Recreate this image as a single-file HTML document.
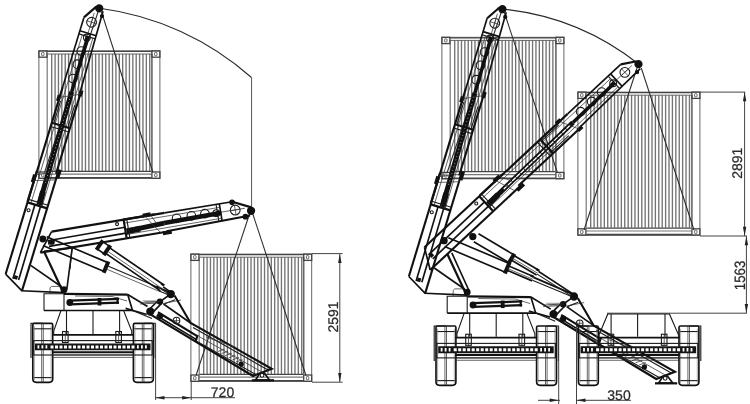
<!DOCTYPE html>
<html><head><meta charset="utf-8"><title>Side loader working range</title>
<style>
html,body{margin:0;padding:0;background:#fff;}
body{width:750px;height:404px;overflow:hidden;}
svg{display:block;will-change:transform;filter:blur(0.45px);}
line,path,circle,rect{stroke-linecap:butt;}
.k{stroke:#111;stroke-width:1.65;}
.kk{stroke:#111;stroke-width:2.2;}
.m{stroke:#1a1a1a;stroke-width:1.1;}
.t{stroke:#333;stroke-width:0.75;}
.t3{stroke:#777;stroke-width:0.6;}
.vl{stroke:#555;stroke-width:1;}
.t2{stroke:#2a2a2a;stroke-width:1.05;}
.g{stroke:#555;stroke-width:0.9;}
.g3{stroke:#444;stroke-width:1.3;}
.g4{stroke:#777;stroke-width:1.2;}
.n{stroke:none;}
.g6{stroke:#444;stroke-width:1.6;}
.g5{stroke:#666;stroke-width:1.6;}
.g2{stroke:#777;stroke-width:0.6;}
.c{stroke:#747474;stroke-width:1.35;fill:none;}
.d{stroke:#444;stroke-width:1;}
.e{stroke:#111;stroke-width:2.1;}
.ch{stroke:#111;stroke-width:3.5;}
.ch5{stroke:#111;stroke-width:4.6;}
.ch3{stroke:#111;stroke-width:4;}
.ch4{stroke:#111;stroke-width:5.8;}
.ch2{stroke:#111;stroke-width:5;}
.cw{stroke:#ddd;stroke-width:0.8;stroke-dasharray:0.8 2.8;}
.cw2{stroke:#fff;stroke-width:1.3;stroke-dasharray:5 0.8;}
.br{stroke:#111;stroke-width:3.8;}
.br3{stroke:#111;stroke-width:4;}
.br2{stroke:#111;stroke-width:2.2;}
.band{stroke:#151515;stroke-width:6.8;}
.dots{stroke:#fff;stroke-width:3;stroke-dasharray:3 1.5;}
.dots2{stroke:#fff;stroke-width:3.4;stroke-dasharray:1.8 2.2;}
.tx{font-family:"Liberation Sans",sans-serif;fill:#2a2a2a;stroke:#2a2a2a;stroke-width:0.25;text-rendering:geometricPrecision;}
</style></head><body>
<svg width="750" height="404" viewBox="0 0 750 404">
<rect width="750" height="404" fill="#fff"/>
<g>
<path d="M51.7 54V171M55.08 54V171M58.46 54V171M61.84 54V171M65.22 54V171M68.6 54V171M71.98 54V171M75.36 54V171M78.74 54V171M82.12 54V171M85.5 54V171M88.88 54V171M92.26 54V171M95.64 54V171M99.02 54V171M102.4 54V171M105.78 54V171M109.16 54V171M112.54 54V171M115.92 54V171M119.3 54V171M122.68 54V171M126.06 54V171M129.44 54V171M132.82 54V171M136.2 54V171M139.58 54V171M142.96 54V171M146.34 54V171M149.72 54V171" class="c"/>
<rect x="38.9" y="50.9" width="121" height="127.5" rx="0" class="g" fill="none"/>
<line x1="46.6" y1="51.4" x2="152.2" y2="51.4" class="g3"/>
<line x1="46.6" y1="54" x2="152.2" y2="54" class="g"/>
<line x1="47.2" y1="171.3" x2="151.6" y2="171.3" class="g3"/>
<line x1="47.2" y1="174.2" x2="151.6" y2="174.2" class="g4"/>
<line x1="47.2" y1="177.8" x2="151.6" y2="177.8" class="g6"/>
<line x1="47.2" y1="54" x2="47.2" y2="171" class="g4"/>
<line x1="151.9" y1="54" x2="151.9" y2="171" class="g5"/>
<rect x="38.9" y="50.9" width="8" height="6.3" rx="0" class="g3" fill="none"/>
<rect x="41.6" y="52.4" width="2.4" height="3.3" rx="0.8" class="g" fill="none"/>
<rect x="38.9" y="172" width="8" height="6.3" rx="0" class="g3" fill="none"/>
<rect x="41.6" y="173.5" width="2.4" height="3.3" rx="0.8" class="g" fill="none"/>
<rect x="151.9" y="50.9" width="8" height="6.3" rx="0" class="g3" fill="none"/>
<rect x="154.6" y="52.4" width="2.4" height="3.3" rx="0.8" class="g" fill="none"/>
<rect x="151.9" y="172" width="8" height="6.3" rx="0" class="g3" fill="none"/>
<rect x="154.6" y="173.5" width="2.4" height="3.3" rx="0.8" class="g" fill="none"/>
</g>
<g>
<path d="M203.7 257.2V374M207.08 257.2V374M210.46 257.2V374M213.84 257.2V374M217.22 257.2V374M220.6 257.2V374M223.98 257.2V374M227.36 257.2V374M230.74 257.2V374M234.12 257.2V374M237.5 257.2V374M240.88 257.2V374M244.26 257.2V374M247.64 257.2V374M251.02 257.2V374M254.4 257.2V374M257.78 257.2V374M261.16 257.2V374M264.54 257.2V374M267.92 257.2V374M271.3 257.2V374M274.68 257.2V374M278.06 257.2V374M281.44 257.2V374M284.82 257.2V374M288.2 257.2V374M291.58 257.2V374M294.96 257.2V374M298.34 257.2V374M301.72 257.2V374" class="c"/>
<rect x="190.9" y="254.1" width="120.8" height="127.3" rx="0" class="g" fill="none"/>
<line x1="198.6" y1="254.6" x2="304" y2="254.6" class="g3"/>
<line x1="198.6" y1="257.2" x2="304" y2="257.2" class="g"/>
<line x1="199.2" y1="374.3" x2="303.4" y2="374.3" class="g3"/>
<line x1="199.2" y1="377.2" x2="303.4" y2="377.2" class="g4"/>
<line x1="199.2" y1="380.8" x2="303.4" y2="380.8" class="g6"/>
<line x1="199.2" y1="257.2" x2="199.2" y2="374" class="g4"/>
<line x1="303.7" y1="257.2" x2="303.7" y2="374" class="g5"/>
<rect x="190.9" y="254.1" width="8" height="6.3" rx="0" class="g3" fill="none"/>
<rect x="193.6" y="255.6" width="2.4" height="3.3" rx="0.8" class="g" fill="none"/>
<rect x="190.9" y="375" width="8" height="6.3" rx="0" class="g3" fill="none"/>
<rect x="193.6" y="376.5" width="2.4" height="3.3" rx="0.8" class="g" fill="none"/>
<rect x="303.7" y="254.1" width="8" height="6.3" rx="0" class="g3" fill="none"/>
<rect x="306.4" y="255.6" width="2.4" height="3.3" rx="0.8" class="g" fill="none"/>
<rect x="303.7" y="375" width="8" height="6.3" rx="0" class="g3" fill="none"/>
<rect x="306.4" y="376.5" width="2.4" height="3.3" rx="0.8" class="g" fill="none"/>
</g>
<g>
<path d="M454.7 40.4V171.4M458.09 40.4V171.4M461.47 40.4V171.4M464.86 40.4V171.4M468.24 40.4V171.4M471.63 40.4V171.4M475.01 40.4V171.4M478.4 40.4V171.4M481.78 40.4V171.4M485.17 40.4V171.4M488.55 40.4V171.4M491.94 40.4V171.4M495.32 40.4V171.4M498.71 40.4V171.4M502.09 40.4V171.4M505.48 40.4V171.4M508.86 40.4V171.4M512.25 40.4V171.4M515.63 40.4V171.4M519.02 40.4V171.4M522.4 40.4V171.4M525.79 40.4V171.4M529.17 40.4V171.4M532.56 40.4V171.4M535.94 40.4V171.4M539.33 40.4V171.4M542.71 40.4V171.4M546.1 40.4V171.4M549.48 40.4V171.4M552.87 40.4V171.4" class="c"/>
<rect x="441.9" y="37.3" width="122" height="141.5" rx="0" class="g" fill="none"/>
<line x1="449.6" y1="37.8" x2="556.2" y2="37.8" class="g3"/>
<line x1="449.6" y1="40.4" x2="556.2" y2="40.4" class="g"/>
<line x1="450.2" y1="171.7" x2="555.6" y2="171.7" class="g3"/>
<line x1="450.2" y1="174.6" x2="555.6" y2="174.6" class="g4"/>
<line x1="450.2" y1="178.2" x2="555.6" y2="178.2" class="g6"/>
<line x1="450.2" y1="40.4" x2="450.2" y2="171.4" class="g4"/>
<line x1="555.9" y1="40.4" x2="555.9" y2="171.4" class="g5"/>
<rect x="441.9" y="37.3" width="8" height="6.3" rx="0" class="g3" fill="none"/>
<rect x="444.6" y="38.8" width="2.4" height="3.3" rx="0.8" class="g" fill="none"/>
<rect x="441.9" y="172.4" width="8" height="6.3" rx="0" class="g3" fill="none"/>
<rect x="444.6" y="173.9" width="2.4" height="3.3" rx="0.8" class="g" fill="none"/>
<rect x="555.9" y="37.3" width="8" height="6.3" rx="0" class="g3" fill="none"/>
<rect x="558.6" y="38.8" width="2.4" height="3.3" rx="0.8" class="g" fill="none"/>
<rect x="555.9" y="172.4" width="8" height="6.3" rx="0" class="g3" fill="none"/>
<rect x="558.6" y="173.9" width="2.4" height="3.3" rx="0.8" class="g" fill="none"/>
</g>
<g>
<path d="M590.7 95.2V227.8M594.11 95.2V227.8M597.51 95.2V227.8M600.92 95.2V227.8M604.32 95.2V227.8M607.73 95.2V227.8M611.13 95.2V227.8M614.54 95.2V227.8M617.94 95.2V227.8M621.35 95.2V227.8M624.75 95.2V227.8M628.16 95.2V227.8M631.56 95.2V227.8M634.97 95.2V227.8M638.37 95.2V227.8M641.78 95.2V227.8M645.18 95.2V227.8M648.59 95.2V227.8M651.99 95.2V227.8M655.39 95.2V227.8M658.8 95.2V227.8M662.21 95.2V227.8M665.61 95.2V227.8M669.02 95.2V227.8M672.42 95.2V227.8M675.83 95.2V227.8M679.23 95.2V227.8M682.63 95.2V227.8M686.04 95.2V227.8M689.45 95.2V227.8" class="c"/>
<rect x="577.9" y="92.1" width="122" height="143.1" rx="0" class="g" fill="none"/>
<line x1="585.6" y1="92.6" x2="692.2" y2="92.6" class="g3"/>
<line x1="585.6" y1="95.2" x2="692.2" y2="95.2" class="g"/>
<line x1="586.2" y1="228.1" x2="691.6" y2="228.1" class="g3"/>
<line x1="586.2" y1="231" x2="691.6" y2="231" class="g4"/>
<line x1="586.2" y1="234.6" x2="691.6" y2="234.6" class="g6"/>
<line x1="586.2" y1="95.2" x2="586.2" y2="227.8" class="g4"/>
<line x1="691.9" y1="95.2" x2="691.9" y2="227.8" class="g5"/>
<rect x="577.9" y="92.1" width="8" height="6.3" rx="0" class="g3" fill="none"/>
<rect x="580.6" y="93.6" width="2.4" height="3.3" rx="0.8" class="g" fill="none"/>
<rect x="577.9" y="228.8" width="8" height="6.3" rx="0" class="g3" fill="none"/>
<rect x="580.6" y="230.3" width="2.4" height="3.3" rx="0.8" class="g" fill="none"/>
<rect x="691.9" y="92.1" width="8" height="6.3" rx="0" class="g3" fill="none"/>
<rect x="694.6" y="93.6" width="2.4" height="3.3" rx="0.8" class="g" fill="none"/>
<rect x="691.9" y="228.8" width="8" height="6.3" rx="0" class="g3" fill="none"/>
<rect x="694.6" y="230.3" width="2.4" height="3.3" rx="0.8" class="g" fill="none"/>
</g>
<path d="M99.6 8.2 A284 284 0 0 1 251.5 77.5" class="t2" fill="none"/>
<line x1="251.6" y1="77.5" x2="251.6" y2="208" class="vl"/>
<path d="M502.6 9 A262 262 0 0 1 639.2 64.5" class="t2" fill="none"/>
<line x1="101.5" y1="12" x2="153" y2="172.5" class="t2"/>
<line x1="98" y1="12" x2="44.5" y2="172.5" class="t2"/>
<line x1="249.5" y1="214" x2="196" y2="375.5" class="t2"/>
<line x1="252.5" y1="213" x2="306" y2="375.5" class="t2"/>
<line x1="504.5" y1="13" x2="557.5" y2="173" class="t2"/>
<line x1="501" y1="13" x2="447" y2="173" class="t2"/>
<line x1="637" y1="68" x2="584" y2="230" class="t2"/>
<line x1="641.3" y1="68" x2="694" y2="230" class="t2"/>
<g transform="translate(0 0) scale(1 1)">
<path d="M32.8 324.8 Q32.8 323.3 34.3 323.3 H51.2 Q52.7 323.3 52.7 324.8 V378.8 Q52.7 382.3 49.2 382.3 H36.3 Q32.8 382.3 32.8 378.8 Z" class="k" fill="none"/>
<line x1="41.7" y1="323.3" x2="41.7" y2="382.3" class="t"/>
<line x1="43.3" y1="323.3" x2="43.3" y2="382.3" class="t"/>
<line x1="33.8" y1="328.8" x2="51.7" y2="328.8" class="m"/>
<line x1="33.8" y1="377.6" x2="51.7" y2="377.6" class="m"/>
<line x1="34.4" y1="326" x2="34.4" y2="380" class="t3"/>
<line x1="51.1" y1="326" x2="51.1" y2="380" class="t3"/>
<path d="M31 358 L31 323.3 L42.8 323.3" class="m" fill="none"/>
<path d="M133.4 324.8 Q133.4 323.3 134.9 323.3 H151.8 Q153.3 323.3 153.3 324.8 V378.8 Q153.3 382.3 149.8 382.3 H136.9 Q133.4 382.3 133.4 378.8 Z" class="k" fill="none"/>
<line x1="142.3" y1="323.3" x2="142.3" y2="382.3" class="t"/>
<line x1="143.9" y1="323.3" x2="143.9" y2="382.3" class="t"/>
<line x1="134.4" y1="328.8" x2="152.3" y2="328.8" class="m"/>
<line x1="134.4" y1="377.6" x2="152.3" y2="377.6" class="m"/>
<line x1="135" y1="326" x2="135" y2="380" class="t3"/>
<line x1="151.7" y1="326" x2="151.7" y2="380" class="t3"/>
<path d="M155.2 358 L155.2 323.3 L143.4 323.3" class="m" fill="none"/>
<rect x="33.7" y="340.6" width="118.5" height="14.4" rx="0" class="m" fill="none"/>
<line x1="35" y1="346.9" x2="150.5" y2="346.9" class="band"/>
<line x1="37.5" y1="346.9" x2="49" y2="346.9" class="dots2"/>
<line x1="50.5" y1="346.9" x2="136" y2="346.9" class="dots"/>
<line x1="137" y1="346.9" x2="148.5" y2="346.9" class="dots2"/>
<line x1="52" y1="352.2" x2="134" y2="352.2" class="e"/>
<line x1="52" y1="355" x2="134" y2="355" class="t"/>
<line x1="52" y1="357.4" x2="134" y2="357.4" class="t"/>
<line x1="52" y1="334.8" x2="134" y2="334.8" class="k"/>
<rect x="62.5" y="331.5" width="5.6" height="11" rx="0" class="m" fill="none"/>
<line x1="65.3" y1="331.5" x2="65.3" y2="342.5" class="t"/>
<rect x="115.8" y="331.5" width="5.6" height="11" rx="0" class="m" fill="none"/>
<line x1="118.6" y1="331.5" x2="118.6" y2="342.5" class="t"/>
<g>
<line x1="83.93" y1="17.43" x2="62.75" y2="86.87" class="k"/>
<line x1="62.75" y1="86.87" x2="5.66" y2="274.06" class="e"/>
<line x1="83.93" y1="17.43" x2="96.3" y2="6.67" class="kk"/>
<line x1="103.03" y1="11.34" x2="80.06" y2="92.15" class="k"/>
<line x1="80.83" y1="92.38" x2="56.03" y2="173.69" class="e"/>
<line x1="57.56" y1="174.15" x2="21.97" y2="290.85" class="e"/>
<line x1="5.66" y1="274.06" x2="21.97" y2="290.85" class="k"/>
<circle cx="99.23" cy="8.4" r="3.3" class="k" fill="#111"/>
<circle cx="102.02" cy="16.05" r="1.3" class="k" fill="#111"/>
<circle cx="91.55" cy="22.26" r="4.9" class="m" fill="none"/>
<line x1="92.98" y1="17.58" x2="90.12" y2="26.95" class="t"/>
<line x1="96.23" y1="23.69" x2="86.86" y2="20.83" class="t"/>
<line x1="94.22" y1="12.83" x2="87.21" y2="35.79" class="t"/>
<line x1="79.87" y1="30.72" x2="96.13" y2="35.68" class="k"/>
<line x1="78.91" y1="33.88" x2="95.27" y2="38.87" class="m"/>
<circle cx="86.88" cy="37.57" r="3.4" class="m" fill="none"/>
<circle cx="81.31" cy="51.03" r="4.3" class="m" fill="none"/>
<circle cx="77.32" cy="64.13" r="4.3" class="m" fill="none"/>
<circle cx="72.94" cy="78.48" r="4.3" class="m" fill="none"/>
<line x1="82.14" y1="35.28" x2="30.86" y2="203.44" class="t"/>
<line x1="92.76" y1="38.52" x2="41.95" y2="206.82" class="t"/>
<line x1="87.79" y1="35.96" x2="86.04" y2="41.7" class="ch3"/>
<line x1="87.69" y1="36.98" x2="71.73" y2="91.7" class="ch"/>
<line x1="71.73" y1="91.7" x2="39.29" y2="203.92" class="ch2"/>
<line x1="42.98" y1="191.45" x2="39.28" y2="204.96" class="ch4"/>
<line x1="70.66" y1="95.56" x2="44.93" y2="184.73" class="cw"/>
<line x1="59.55" y1="95.31" x2="57.8" y2="101.04" class="br"/>
<line x1="81.7" y1="90.56" x2="79.95" y2="96.3" class="br"/>
<line x1="59.54" y1="97.39" x2="80.24" y2="94.3" class="t"/>
<line x1="51.81" y1="122.74" x2="69.89" y2="128.25" class="kk"/>
<line x1="50.64" y1="126.57" x2="68.72" y2="132.08" class="m"/>
<line x1="60.58" y1="100.85" x2="53.87" y2="122.85" class="m"/>
<line x1="74.73" y1="105.16" x2="68.02" y2="127.16" class="m"/>
<line x1="34.96" y1="174.58" x2="32.62" y2="182.23" class="br"/>
<line x1="36.89" y1="170.99" x2="27.55" y2="201.59" class="kk"/>
<line x1="59.98" y1="169.66" x2="57.35" y2="178.27" class="br"/>
<line x1="34.16" y1="180.61" x2="55.81" y2="179.89" class="t"/>
<line x1="35.91" y1="174.87" x2="47.22" y2="173.09" class="t"/>
<line x1="27.51" y1="202.42" x2="47.12" y2="208.4" class="kk"/>
<line x1="28.44" y1="199.36" x2="48.05" y2="205.34" class="m"/>
<circle cx="28.57" cy="210.27" r="1.5" class="m" fill="none"/>
<line x1="34.88" y1="204.66" x2="12.93" y2="278.68" class="k"/>
<line x1="40.52" y1="206.39" x2="18.62" y2="279.9" class="k"/>
<line x1="14.09" y1="276.94" x2="17.53" y2="277.99" class="br"/>
</g>
<path d="M61 310.5 L53.7 331 L53.7 335" class="m" fill="none"/>
<path d="M123.6 310.5 L131.7 331 L131.7 335" class="m" fill="none"/>
<line x1="66.5" y1="310.5" x2="66.5" y2="334" class="m"/>
<line x1="93" y1="310.5" x2="93" y2="334" class="m"/>
<line x1="119.6" y1="310.5" x2="119.6" y2="334" class="m"/>
<path d="M64 293.7 L44 293.7 L44 310.5" class="m" fill="none"/>
<path d="M44 310.5 L132.5 310.5 L127.7 294.5" class="k" fill="none"/>
<line x1="64" y1="293.9" x2="127.7" y2="294.6" class="kk"/>
<line x1="64" y1="293.7" x2="64" y2="310.5" class="m"/>
<line x1="127.7" y1="294.5" x2="147.5" y2="306.5" class="k"/>
<line x1="125.6" y1="308.4" x2="146.8" y2="314.5" class="k"/>
<line x1="132.5" y1="310.5" x2="152" y2="318.6" class="m"/>
<path d="M50 293.5 L50 287.8 L51.5 286.4 L62 286.4" class="t" fill="none"/>
<line x1="75" y1="296" x2="112" y2="296.5" class="t"/>
<line x1="112" y1="296.5" x2="127" y2="301" class="t"/>
<line x1="70" y1="300.6" x2="119" y2="298.8" class="kk"/>
<line x1="70" y1="304.4" x2="119" y2="302.6" class="kk"/>
<circle cx="69.8" cy="302.5" r="2.6" class="k" fill="#111"/>
<line x1="99.5" y1="298" x2="99.5" y2="305.5" class="br"/>
<line x1="117.5" y1="297.5" x2="117.5" y2="304" class="br2"/>
<path d="M44 251.4 L62.8 291.5" class="kk" fill="none"/>
<path d="M44 251.4 L72.2 248 L66.8 289.5" class="k" fill="none"/>
<line x1="30.7" y1="265.4" x2="61.5" y2="286.8" class="k"/>
<line x1="21.4" y1="290.8" x2="64" y2="292.6" class="k"/>
<circle cx="64" cy="289.7" r="2.6" class="k" fill="#111"/>
<circle cx="170.8" cy="294" r="3.3" class="k" fill="#111"/>
<circle cx="160" cy="301.6" r="2.4" class="k" fill="#111"/>
<circle cx="150.3" cy="311.5" r="3.3" class="k" fill="#111"/>
<circle cx="160" cy="316" r="2.3" class="k" fill="#111"/>
<line x1="148.7" y1="310" x2="158.6" y2="300" class="k"/>
<line x1="152" y1="313.2" x2="161.6" y2="303.4" class="k"/>
<line x1="160" y1="301.6" x2="170.8" y2="294" class="k"/>
<line x1="164.7" y1="303.8" x2="175" y2="299.8" class="m"/>
<path d="M142 300.3 L157 300.2 L154 303.2 L147 303.2 Z" class="n" fill="#aaa"/>
<line x1="163" y1="303.5" x2="181" y2="300" class="t"/>
<line x1="140" y1="302.5" x2="160" y2="301.4" class="t"/>
<line x1="140" y1="304" x2="158" y2="303" class="t"/>
<path d="M174.5 295.5 L190.6 323 L271.8 368.8 L253 376 L147 312.4" class="e" fill="none"/>
<line x1="193" y1="327.6" x2="268.5" y2="370.2" class="m"/>
<line x1="197" y1="341.6" x2="256" y2="374.6" class="m"/>
<line x1="163.5" y1="304" x2="190.6" y2="323" class="k"/>
<line x1="158" y1="312.3" x2="198" y2="336.6" class="kk"/>
<line x1="156.5" y1="315.5" x2="196.5" y2="339.6" class="k"/>
<line x1="197.6" y1="335" x2="195.8" y2="341" class="br2"/>
<line x1="199" y1="336.5" x2="263" y2="372.6" class="t"/>
<line x1="205.9" y1="337" x2="236.5" y2="347.6" class="t"/>
<line x1="218" y1="351.5" x2="224.5" y2="349.1" class="t"/>
<line x1="221.6" y1="353.6" x2="228.1" y2="351.2" class="t"/>
<line x1="225.2" y1="355.7" x2="231.7" y2="353.3" class="t"/>
<line x1="228.8" y1="357.8" x2="235.3" y2="355.4" class="t"/>
<line x1="232.4" y1="359.9" x2="238.9" y2="357.5" class="t"/>
<line x1="236" y1="362" x2="242.5" y2="359.6" class="t"/>
<circle cx="176.5" cy="320.6" r="3.3" class="m" fill="none"/>
<line x1="173.2" y1="320.6" x2="179.8" y2="320.6" class="t"/>
<line x1="176.5" y1="317.3" x2="176.5" y2="323.9" class="t"/>
<circle cx="241.2" cy="364" r="1.8" class="k" fill="#111"/>
<path d="M255.5 380 L259.6 373.6 L264.6 373.6 L269.5 380 Z" class="k" fill="none"/>
<circle cx="262" cy="375.3" r="1.9" class="m" fill="#fff"/>
<line x1="251.8" y1="380.3" x2="274" y2="380.3" class="kk"/>
</g>
<g transform="translate(403.2 0.75) scale(1 1.006)">
<path d="M32.8 324.8 Q32.8 323.3 34.3 323.3 H51.2 Q52.7 323.3 52.7 324.8 V378.8 Q52.7 382.3 49.2 382.3 H36.3 Q32.8 382.3 32.8 378.8 Z" class="k" fill="none"/>
<line x1="41.7" y1="323.3" x2="41.7" y2="382.3" class="t"/>
<line x1="43.3" y1="323.3" x2="43.3" y2="382.3" class="t"/>
<line x1="33.8" y1="328.8" x2="51.7" y2="328.8" class="m"/>
<line x1="33.8" y1="377.6" x2="51.7" y2="377.6" class="m"/>
<line x1="34.4" y1="326" x2="34.4" y2="380" class="t3"/>
<line x1="51.1" y1="326" x2="51.1" y2="380" class="t3"/>
<path d="M31 358 L31 323.3 L42.8 323.3" class="m" fill="none"/>
<path d="M133.4 324.8 Q133.4 323.3 134.9 323.3 H151.8 Q153.3 323.3 153.3 324.8 V378.8 Q153.3 382.3 149.8 382.3 H136.9 Q133.4 382.3 133.4 378.8 Z" class="k" fill="none"/>
<line x1="142.3" y1="323.3" x2="142.3" y2="382.3" class="t"/>
<line x1="143.9" y1="323.3" x2="143.9" y2="382.3" class="t"/>
<line x1="134.4" y1="328.8" x2="152.3" y2="328.8" class="m"/>
<line x1="134.4" y1="377.6" x2="152.3" y2="377.6" class="m"/>
<line x1="135" y1="326" x2="135" y2="380" class="t3"/>
<line x1="151.7" y1="326" x2="151.7" y2="380" class="t3"/>
<path d="M155.2 358 L155.2 323.3 L143.4 323.3" class="m" fill="none"/>
<rect x="33.7" y="340.6" width="118.5" height="14.4" rx="0" class="m" fill="none"/>
<line x1="35" y1="346.9" x2="150.5" y2="346.9" class="band"/>
<line x1="37.5" y1="346.9" x2="49" y2="346.9" class="dots2"/>
<line x1="50.5" y1="346.9" x2="136" y2="346.9" class="dots"/>
<line x1="137" y1="346.9" x2="148.5" y2="346.9" class="dots2"/>
<line x1="52" y1="352.2" x2="134" y2="352.2" class="e"/>
<line x1="52" y1="355" x2="134" y2="355" class="t"/>
<line x1="52" y1="357.4" x2="134" y2="357.4" class="t"/>
<line x1="52" y1="334.8" x2="134" y2="334.8" class="k"/>
<rect x="62.5" y="331.5" width="5.6" height="11" rx="0" class="m" fill="none"/>
<line x1="65.3" y1="331.5" x2="65.3" y2="342.5" class="t"/>
<rect x="115.8" y="331.5" width="5.6" height="11" rx="0" class="m" fill="none"/>
<line x1="118.6" y1="331.5" x2="118.6" y2="342.5" class="t"/>
<g>
<line x1="83.93" y1="17.43" x2="62.75" y2="86.87" class="k"/>
<line x1="62.75" y1="86.87" x2="5.66" y2="274.06" class="e"/>
<line x1="83.93" y1="17.43" x2="96.3" y2="6.67" class="kk"/>
<line x1="103.03" y1="11.34" x2="80.06" y2="92.15" class="k"/>
<line x1="80.83" y1="92.38" x2="56.03" y2="173.69" class="e"/>
<line x1="57.56" y1="174.15" x2="21.97" y2="290.85" class="e"/>
<line x1="5.66" y1="274.06" x2="21.97" y2="290.85" class="k"/>
<circle cx="99.23" cy="8.4" r="3.3" class="k" fill="#111"/>
<circle cx="102.02" cy="16.05" r="1.3" class="k" fill="#111"/>
<circle cx="91.55" cy="22.26" r="4.9" class="m" fill="none"/>
<line x1="92.98" y1="17.58" x2="90.12" y2="26.95" class="t"/>
<line x1="96.23" y1="23.69" x2="86.86" y2="20.83" class="t"/>
<line x1="94.22" y1="12.83" x2="87.21" y2="35.79" class="t"/>
<line x1="79.87" y1="30.72" x2="96.13" y2="35.68" class="k"/>
<line x1="78.91" y1="33.88" x2="95.27" y2="38.87" class="m"/>
<circle cx="86.88" cy="37.57" r="3.4" class="m" fill="none"/>
<circle cx="81.31" cy="51.03" r="4.3" class="m" fill="none"/>
<circle cx="77.32" cy="64.13" r="4.3" class="m" fill="none"/>
<circle cx="72.94" cy="78.48" r="4.3" class="m" fill="none"/>
<line x1="82.14" y1="35.28" x2="30.86" y2="203.44" class="t"/>
<line x1="92.76" y1="38.52" x2="41.95" y2="206.82" class="t"/>
<line x1="87.79" y1="35.96" x2="86.04" y2="41.7" class="ch3"/>
<line x1="87.69" y1="36.98" x2="71.73" y2="91.7" class="ch"/>
<line x1="71.73" y1="91.7" x2="39.29" y2="203.92" class="ch2"/>
<line x1="42.98" y1="191.45" x2="39.28" y2="204.96" class="ch4"/>
<line x1="70.66" y1="95.56" x2="44.93" y2="184.73" class="cw"/>
<line x1="59.55" y1="95.31" x2="57.8" y2="101.04" class="br"/>
<line x1="81.7" y1="90.56" x2="79.95" y2="96.3" class="br"/>
<line x1="59.54" y1="97.39" x2="80.24" y2="94.3" class="t"/>
<line x1="51.81" y1="122.74" x2="69.89" y2="128.25" class="kk"/>
<line x1="50.64" y1="126.57" x2="68.72" y2="132.08" class="m"/>
<line x1="60.58" y1="100.85" x2="53.87" y2="122.85" class="m"/>
<line x1="74.73" y1="105.16" x2="68.02" y2="127.16" class="m"/>
<line x1="34.96" y1="174.58" x2="32.62" y2="182.23" class="br"/>
<line x1="36.89" y1="170.99" x2="27.55" y2="201.59" class="kk"/>
<line x1="59.98" y1="169.66" x2="57.35" y2="178.27" class="br"/>
<line x1="34.16" y1="180.61" x2="55.81" y2="179.89" class="t"/>
<line x1="35.91" y1="174.87" x2="47.22" y2="173.09" class="t"/>
<line x1="27.51" y1="202.42" x2="47.12" y2="208.4" class="kk"/>
<line x1="28.44" y1="199.36" x2="48.05" y2="205.34" class="m"/>
<circle cx="28.57" cy="210.27" r="1.5" class="m" fill="none"/>
<line x1="34.88" y1="204.66" x2="12.93" y2="278.68" class="k"/>
<line x1="40.52" y1="206.39" x2="18.62" y2="279.9" class="k"/>
<line x1="14.09" y1="276.94" x2="17.53" y2="277.99" class="br"/>
</g>
<path d="M61 310.5 L53.7 331 L53.7 335" class="m" fill="none"/>
<path d="M123.6 310.5 L131.7 331 L131.7 335" class="m" fill="none"/>
<line x1="66.5" y1="310.5" x2="66.5" y2="334" class="m"/>
<line x1="93" y1="310.5" x2="93" y2="334" class="m"/>
<line x1="119.6" y1="310.5" x2="119.6" y2="334" class="m"/>
<path d="M64 293.7 L44 293.7 L44 310.5" class="m" fill="none"/>
<path d="M44 310.5 L132.5 310.5 L127.7 294.5" class="k" fill="none"/>
<line x1="64" y1="293.9" x2="127.7" y2="294.6" class="kk"/>
<line x1="64" y1="293.7" x2="64" y2="310.5" class="m"/>
<line x1="127.7" y1="294.5" x2="147.5" y2="306.5" class="k"/>
<line x1="125.6" y1="308.4" x2="146.8" y2="314.5" class="k"/>
<line x1="132.5" y1="310.5" x2="152" y2="318.6" class="m"/>
<path d="M50 293.5 L50 287.8 L51.5 286.4 L62 286.4" class="t" fill="none"/>
<line x1="75" y1="296" x2="112" y2="296.5" class="t"/>
<line x1="112" y1="296.5" x2="127" y2="301" class="t"/>
<line x1="70" y1="300.6" x2="119" y2="298.8" class="kk"/>
<line x1="70" y1="304.4" x2="119" y2="302.6" class="kk"/>
<circle cx="69.8" cy="302.5" r="2.6" class="k" fill="#111"/>
<line x1="99.5" y1="298" x2="99.5" y2="305.5" class="br"/>
<line x1="117.5" y1="297.5" x2="117.5" y2="304" class="br2"/>
<path d="M44 251.4 L62.8 291.5" class="kk" fill="none"/>
<line x1="48.6" y1="250.6" x2="66.2" y2="289" class="k"/>
<line x1="30.7" y1="265.4" x2="61.5" y2="286.8" class="k"/>
<line x1="21.4" y1="290.8" x2="64" y2="292.6" class="k"/>
<circle cx="64" cy="289.7" r="2.6" class="k" fill="#111"/>
<circle cx="170.8" cy="294" r="3.3" class="k" fill="#111"/>
<circle cx="160" cy="301.6" r="2.4" class="k" fill="#111"/>
<circle cx="150.3" cy="311.5" r="3.3" class="k" fill="#111"/>
<circle cx="160" cy="316" r="2.3" class="k" fill="#111"/>
<line x1="148.7" y1="310" x2="158.6" y2="300" class="k"/>
<line x1="152" y1="313.2" x2="161.6" y2="303.4" class="k"/>
<line x1="160" y1="301.6" x2="170.8" y2="294" class="k"/>
<line x1="164.7" y1="303.8" x2="175" y2="299.8" class="m"/>
<path d="M142 300.3 L157 300.2 L154 303.2 L147 303.2 Z" class="n" fill="#aaa"/>
<line x1="163" y1="303.5" x2="181" y2="300" class="t"/>
<line x1="140" y1="302.5" x2="160" y2="301.4" class="t"/>
<line x1="140" y1="304" x2="158" y2="303" class="t"/>
<path d="M174.5 295.5 L190.6 323 L271.8 368.8 L253 376 L147 312.4" class="e" fill="none"/>
<line x1="193" y1="327.6" x2="268.5" y2="370.2" class="m"/>
<line x1="197" y1="341.6" x2="256" y2="374.6" class="m"/>
<line x1="163.5" y1="304" x2="190.6" y2="323" class="k"/>
<line x1="158" y1="312.3" x2="198" y2="336.6" class="kk"/>
<line x1="156.5" y1="315.5" x2="196.5" y2="339.6" class="k"/>
<line x1="197.6" y1="335" x2="195.8" y2="341" class="br2"/>
<line x1="199" y1="336.5" x2="263" y2="372.6" class="t"/>
<line x1="205.9" y1="337" x2="236.5" y2="347.6" class="t"/>
<line x1="218" y1="351.5" x2="224.5" y2="349.1" class="t"/>
<line x1="221.6" y1="353.6" x2="228.1" y2="351.2" class="t"/>
<line x1="225.2" y1="355.7" x2="231.7" y2="353.3" class="t"/>
<line x1="228.8" y1="357.8" x2="235.3" y2="355.4" class="t"/>
<line x1="232.4" y1="359.9" x2="238.9" y2="357.5" class="t"/>
<line x1="236" y1="362" x2="242.5" y2="359.6" class="t"/>
<circle cx="176.5" cy="320.6" r="3.3" class="m" fill="none"/>
<line x1="173.2" y1="320.6" x2="179.8" y2="320.6" class="t"/>
<line x1="176.5" y1="317.3" x2="176.5" y2="323.9" class="t"/>
<circle cx="241.2" cy="364" r="1.8" class="k" fill="#111"/>
<path d="M255.5 380 L259.6 373.6 L264.6 373.6 L269.5 380 Z" class="k" fill="none"/>
<circle cx="262" cy="375.3" r="1.9" class="m" fill="#fff"/>
<line x1="251.8" y1="380.3" x2="274" y2="380.3" class="kk"/>
</g>
<g transform="translate(545.6 0.75) scale(1 1.006)">
<path d="M32.8 324.8 Q32.8 323.3 34.3 323.3 H51.2 Q52.7 323.3 52.7 324.8 V378.8 Q52.7 382.3 49.2 382.3 H36.3 Q32.8 382.3 32.8 378.8 Z" class="k" fill="none"/>
<line x1="41.7" y1="323.3" x2="41.7" y2="382.3" class="t"/>
<line x1="43.3" y1="323.3" x2="43.3" y2="382.3" class="t"/>
<line x1="33.8" y1="328.8" x2="51.7" y2="328.8" class="m"/>
<line x1="33.8" y1="377.6" x2="51.7" y2="377.6" class="m"/>
<line x1="34.4" y1="326" x2="34.4" y2="380" class="t3"/>
<line x1="51.1" y1="326" x2="51.1" y2="380" class="t3"/>
<path d="M31 358 L31 323.3 L42.8 323.3" class="m" fill="none"/>
<path d="M133.4 324.8 Q133.4 323.3 134.9 323.3 H151.8 Q153.3 323.3 153.3 324.8 V378.8 Q153.3 382.3 149.8 382.3 H136.9 Q133.4 382.3 133.4 378.8 Z" class="k" fill="none"/>
<line x1="142.3" y1="323.3" x2="142.3" y2="382.3" class="t"/>
<line x1="143.9" y1="323.3" x2="143.9" y2="382.3" class="t"/>
<line x1="134.4" y1="328.8" x2="152.3" y2="328.8" class="m"/>
<line x1="134.4" y1="377.6" x2="152.3" y2="377.6" class="m"/>
<line x1="135" y1="326" x2="135" y2="380" class="t3"/>
<line x1="151.7" y1="326" x2="151.7" y2="380" class="t3"/>
<path d="M155.2 358 L155.2 323.3 L143.4 323.3" class="m" fill="none"/>
<rect x="33.7" y="340.6" width="118.5" height="14.4" rx="0" class="m" fill="none"/>
<line x1="35" y1="346.9" x2="150.5" y2="346.9" class="band"/>
<line x1="37.5" y1="346.9" x2="49" y2="346.9" class="dots2"/>
<line x1="50.5" y1="346.9" x2="136" y2="346.9" class="dots"/>
<line x1="137" y1="346.9" x2="148.5" y2="346.9" class="dots2"/>
<line x1="52" y1="352.2" x2="134" y2="352.2" class="e"/>
<line x1="52" y1="355" x2="134" y2="355" class="t"/>
<line x1="52" y1="357.4" x2="134" y2="357.4" class="t"/>
<line x1="52" y1="334.8" x2="134" y2="334.8" class="k"/>
<rect x="62.5" y="331.5" width="5.6" height="11" rx="0" class="m" fill="none"/>
<line x1="65.3" y1="331.5" x2="65.3" y2="342.5" class="t"/>
<rect x="115.8" y="331.5" width="5.6" height="11" rx="0" class="m" fill="none"/>
<line x1="118.6" y1="331.5" x2="118.6" y2="342.5" class="t"/>
<path d="M53.5 335 L53.5 332 L62.2 311.3 L123.8 311.3 L133.3 333 L133.3 335" class="m" fill="none"/>
<line x1="65.5" y1="311.3" x2="65.5" y2="334" class="m"/>
<line x1="92" y1="311.3" x2="92" y2="334" class="m"/>
<line x1="119.4" y1="311.3" x2="119.4" y2="334" class="m"/>
</g>
<g>
<line x1="232.22" y1="201.71" x2="164.55" y2="212.91" class="k"/>
<line x1="164.55" y1="212.91" x2="51.58" y2="231.61" class="e"/>
<line x1="232.22" y1="201.71" x2="251.31" y2="207.37" class="kk"/>
<circle cx="232.03" cy="202.35" r="2" class="k" fill="#111"/>
<line x1="250.11" y1="215.47" x2="166.58" y2="231.33" class="e"/>
<line x1="166.65" y1="231.72" x2="40.36" y2="252.63" class="e"/>
<line x1="51.58" y1="231.61" x2="40.36" y2="252.63" class="k"/>
<circle cx="251.06" cy="210.75" r="3.3" class="k" fill="#111"/>
<circle cx="245.44" cy="216.65" r="2.1" class="k" fill="#111"/>
<circle cx="235.22" cy="210.03" r="4.9" class="m" fill="none"/>
<line x1="240.06" y1="209.23" x2="230.39" y2="210.83" class="t"/>
<line x1="236.02" y1="214.86" x2="234.42" y2="205.19" class="t"/>
<line x1="244.86" y1="208.23" x2="221.18" y2="212.15" class="t"/>
<line x1="219.3" y1="203.85" x2="222.08" y2="220.62" class="k"/>
<line x1="216.04" y1="204.39" x2="218.84" y2="221.26" class="m"/>
<circle cx="216.28" cy="213.16" r="3.4" class="m" fill="none"/>
<circle cx="204.91" cy="213.63" r="4.3" class="m" fill="none"/>
<circle cx="191.39" cy="215.87" r="4.3" class="m" fill="none"/>
<circle cx="176.59" cy="218.32" r="4.3" class="m" fill="none"/>
<line x1="219.38" y1="207.38" x2="124.17" y2="223.14" class="t"/>
<line x1="221.19" y1="218.33" x2="126.07" y2="234.59" class="t"/>
<line x1="221.28" y1="212.74" x2="215.36" y2="213.72" class="ch3"/>
<line x1="220.33" y1="213.1" x2="164.21" y2="223.1" class="ch5"/>
<line x1="164.21" y1="223.1" x2="127.49" y2="230.91" class="ch2"/>
<line x1="140.3" y1="228.68" x2="126.55" y2="231.36" class="ch4"/>
<line x1="150.57" y1="214.21" x2="142.68" y2="215.52" class="br"/>
<line x1="154.65" y1="214.35" x2="123.08" y2="219.57" class="kk"/>
<line x1="171.74" y1="231.89" x2="162.86" y2="233.36" class="br"/>
<line x1="144.81" y1="216.18" x2="160.73" y2="232.7" class="t"/>
<line x1="150.73" y1="215.2" x2="157.35" y2="224.54" class="t"/>
<line x1="123.6" y1="219.69" x2="126.69" y2="238.34" class="kk"/>
<line x1="126.76" y1="219.17" x2="129.85" y2="237.81" class="m"/>
<circle cx="117.04" cy="224.12" r="1.5" class="m" fill="none"/>
<line x1="124.86" y1="227.29" x2="47.51" y2="240.7" class="k"/>
<line x1="125.82" y1="233.11" x2="48.95" y2="246.34" class="k"/>
<line x1="49.58" y1="240.96" x2="50.17" y2="244.52" class="br"/>
</g>
<g>
<line x1="620.71" y1="64.34" x2="567.62" y2="113.86" class="k"/>
<line x1="567.62" y1="113.86" x2="424.49" y2="247.32" class="e"/>
<line x1="620.71" y1="64.34" x2="636.81" y2="61.23" class="kk"/>
<line x1="640.3" y1="68.64" x2="579.96" y2="127.09" class="k"/>
<line x1="580.5" y1="127.68" x2="518.34" y2="185.65" class="e"/>
<line x1="519.43" y1="186.82" x2="430.21" y2="270.02" class="e"/>
<line x1="424.49" y1="247.32" x2="430.21" y2="270.02" class="k"/>
<circle cx="638.48" cy="64.19" r="3.3" class="k" fill="#111"/>
<circle cx="637.06" cy="72.2" r="1.3" class="k" fill="#111"/>
<circle cx="624.89" cy="72.34" r="4.9" class="m" fill="none"/>
<line x1="628.47" y1="69" x2="621.31" y2="75.68" class="t"/>
<line x1="628.23" y1="75.93" x2="621.55" y2="68.76" class="t"/>
<line x1="631.92" y1="65.51" x2="614.37" y2="81.88" class="t"/>
<line x1="610.55" y1="73.82" x2="622.14" y2="86.26" class="k"/>
<line x1="608.13" y1="76.07" x2="619.79" y2="88.58" class="m"/>
<circle cx="613.19" cy="83.25" r="3.4" class="m" fill="none"/>
<circle cx="601.63" cy="92.12" r="4.3" class="m" fill="none"/>
<circle cx="591.61" cy="101.46" r="4.3" class="m" fill="none"/>
<circle cx="580.64" cy="111.69" r="4.3" class="m" fill="none"/>
<line x1="610.23" y1="78.91" x2="481.65" y2="198.8" class="t"/>
<line x1="617.8" y1="87.02" x2="489.57" y2="207.29" class="t"/>
<line x1="614.78" y1="82.32" x2="610.39" y2="86.41" class="ch3"/>
<line x1="614.18" y1="83.15" x2="572.97" y2="122.53" class="ch"/>
<line x1="572.97" y1="122.53" x2="488.71" y2="203.43" class="ch2"/>
<line x1="498.15" y1="194.5" x2="488.18" y2="204.34" class="ch4"/>
<line x1="570.12" y1="125.33" x2="503.2" y2="189.65" class="cw2"/>
<line x1="560.62" y1="119.56" x2="556.24" y2="123.65" class="br"/>
<line x1="582.17" y1="126.53" x2="577.78" y2="130.63" class="br"/>
<line x1="559.57" y1="121.36" x2="579.04" y2="129.04" class="t"/>
<line x1="540.19" y1="139.43" x2="553.08" y2="153.25" class="kk"/>
<line x1="537.26" y1="142.16" x2="550.15" y2="155.98" class="m"/>
<line x1="558.74" y1="124.87" x2="541.92" y2="140.55" class="m"/>
<line x1="568.83" y1="135.69" x2="552.01" y2="151.38" class="m"/>
<line x1="499.65" y1="175.87" x2="493.8" y2="181.32" class="br"/>
<line x1="503.12" y1="173.73" x2="479.72" y2="195.55" class="kk"/>
<line x1="523.77" y1="184.14" x2="517.19" y2="190.28" class="br"/>
<line x1="495.94" y1="180.69" x2="515.04" y2="190.91" class="t"/>
<line x1="500.33" y1="176.6" x2="511.01" y2="180.72" class="t"/>
<line x1="479.27" y1="196.24" x2="493.25" y2="211.23" class="kk"/>
<line x1="481.61" y1="194.06" x2="495.59" y2="209.05" class="m"/>
<circle cx="476.25" cy="203.57" r="1.5" class="m" fill="none"/>
<line x1="484.52" y1="201.87" x2="428.47" y2="254.96" class="k"/>
<line x1="488.54" y1="206.19" x2="432.79" y2="258.86" class="k"/>
<line x1="430.34" y1="254.04" x2="432.79" y2="256.67" class="br"/>
</g>
<line x1="46.63" y1="236.75" x2="107.89" y2="262.63" class="k"/>
<line x1="42.9" y1="245.59" x2="104.15" y2="271.47" class="k"/>
<line x1="108.39" y1="261.43" x2="103.65" y2="272.67" class="br3"/>
<line x1="106.68" y1="265.48" x2="159.19" y2="287.66" class="m"/>
<line x1="105.36" y1="268.61" x2="157.87" y2="290.8" class="t"/>
<line x1="155.85" y1="286.58" x2="159.07" y2="287.94" class="br2"/>
<line x1="159.11" y1="287.85" x2="169.2" y2="292.33" class="k"/>
<line x1="157.94" y1="290.61" x2="168.19" y2="294.72" class="m"/>
<line x1="102.25" y1="241.34" x2="109.67" y2="246.42" class="k"/>
<line x1="97.05" y1="248.93" x2="104.48" y2="254.01" class="k"/>
<line x1="102.93" y1="240.35" x2="96.37" y2="249.92" class="br"/>
<line x1="110.41" y1="245.35" x2="103.74" y2="255.08" class="br3"/>
<line x1="109" y1="247.41" x2="164.27" y2="285.27" class="k"/>
<line x1="105.15" y1="253.02" x2="160.43" y2="290.88" class="k"/>
<line x1="106.79" y1="250.63" x2="162.07" y2="288.49" class="t"/>
<line x1="161.22" y1="283.54" x2="164.1" y2="285.52" class="br2"/>
<line x1="163.2" y1="286.84" x2="169.67" y2="291.51" class="k"/>
<line x1="161.5" y1="289.31" x2="168.2" y2="293.66" class="m"/>
<line x1="72" y1="247.7" x2="70" y2="269" class="m"/>
<circle cx="42.8" cy="239" r="2.6" class="k" fill="#111"/>
<circle cx="52" cy="242" r="2" class="k" fill="#111"/>
<line x1="448.34" y1="237.65" x2="509.1" y2="263.41" class="k"/>
<line x1="444.59" y1="246.49" x2="505.36" y2="272.25" class="k"/>
<line x1="509.61" y1="262.21" x2="504.85" y2="273.44" class="br3"/>
<line x1="508.13" y1="265.71" x2="533.91" y2="276.64" class="k"/>
<line x1="506.33" y1="269.95" x2="532.11" y2="280.87" class="k"/>
<line x1="507.03" y1="268.29" x2="532.81" y2="279.22" class="t"/>
<line x1="530.57" y1="275.55" x2="533.79" y2="276.91" class="br2"/>
<line x1="533.59" y1="277.37" x2="572.61" y2="294.13" class="k"/>
<line x1="532.42" y1="280.14" x2="571.59" y2="296.52" class="m"/>
<line x1="478.53" y1="233.79" x2="513.75" y2="254.78" class="k"/>
<line x1="473.82" y1="241.69" x2="509.04" y2="262.68" class="k"/>
<line x1="514.41" y1="253.67" x2="508.37" y2="263.8" class="br3"/>
<line x1="513.49" y1="255.21" x2="539.26" y2="270.57" class="k"/>
<line x1="510.83" y1="259.68" x2="536.6" y2="275.04" class="k"/>
<line x1="511.9" y1="257.87" x2="537.67" y2="273.24" class="t"/>
<line x1="536.1" y1="269.04" x2="539.11" y2="270.83" class="br2"/>
<line x1="538.7" y1="271.52" x2="572.92" y2="293.9" class="k"/>
<line x1="537.16" y1="274.1" x2="571.59" y2="296.14" class="m"/>
<circle cx="444.1" cy="240.7" r="2.8" class="k" fill="#111"/>
<circle cx="472.8" cy="236.6" r="2.8" class="k" fill="#111"/>
<line x1="312" y1="253.6" x2="342.6" y2="253.6" class="d"/>
<line x1="312" y1="382.2" x2="342.6" y2="382.2" class="d"/>
<line x1="339.8" y1="254" x2="339.8" y2="382" class="d"/>
<path d="M339.8 254 L341.5 263 L338.1 263 Z" fill="#222"/>
<path d="M339.8 382 L338.1 373 L341.5 373 Z" fill="#222"/>
<text x="337.6" y="317" font-size="14" text-anchor="middle" class="tx" transform="rotate(-90 337.6 317)">2591</text>
<line x1="155.6" y1="323.5" x2="155.6" y2="400" class="d"/>
<line x1="191.2" y1="382" x2="191.2" y2="400" class="d"/>
<line x1="155.5" y1="397.7" x2="235" y2="397.7" class="d"/>
<path d="M155.5 397.7 L164.5 396 L164.5 399.4 Z" fill="#222"/>
<path d="M191.2 397.7 L182.2 399.4 L182.2 396 Z" fill="#222"/>
<text x="222.5" y="397" font-size="14" text-anchor="middle" class="tx">720</text>
<line x1="700" y1="92.1" x2="745.2" y2="92.1" class="d"/>
<line x1="700" y1="236" x2="747" y2="236" class="d"/>
<line x1="744.6" y1="92" x2="744.6" y2="236" class="d"/>
<path d="M744.6 92.3 L746.3 101.3 L742.9 101.3 Z" fill="#222"/>
<path d="M744.6 235.7 L742.9 226.7 L746.3 226.7 Z" fill="#222"/>
<text x="742.5" y="163.2" font-size="14" text-anchor="middle" class="tx" transform="rotate(-90 742.5 163.2)">2891</text>
<line x1="607" y1="313.2" x2="747" y2="313.2" class="d"/>
<line x1="746.4" y1="236" x2="746.4" y2="313" class="d"/>
<path d="M746.4 236.3 L748.1 245.3 L744.7 245.3 Z" fill="#222"/>
<path d="M746.4 312.9 L744.7 303.9 L748.1 303.9 Z" fill="#222"/>
<text x="745.4" y="275.4" font-size="15" text-anchor="middle" class="tx" transform="rotate(-90 745.4 275.4)" textLength="29.6" lengthAdjust="spacingAndGlyphs">1563</text>
<line x1="558.7" y1="326" x2="558.7" y2="404" class="d"/>
<line x1="576.5" y1="326" x2="576.5" y2="404" class="d"/>
<line x1="538" y1="400.3" x2="560" y2="400.3" class="d"/>
<line x1="576.5" y1="400.3" x2="631" y2="400.3" class="d"/>
<path d="M558.7 400.3 L549.7 402 L549.7 398.6 Z" fill="#222"/>
<path d="M576.5 400.3 L585.5 398.6 L585.5 402 Z" fill="#222"/>
<text x="619" y="399.5" font-size="14" text-anchor="middle" class="tx">350</text>
</svg>
</body></html>
